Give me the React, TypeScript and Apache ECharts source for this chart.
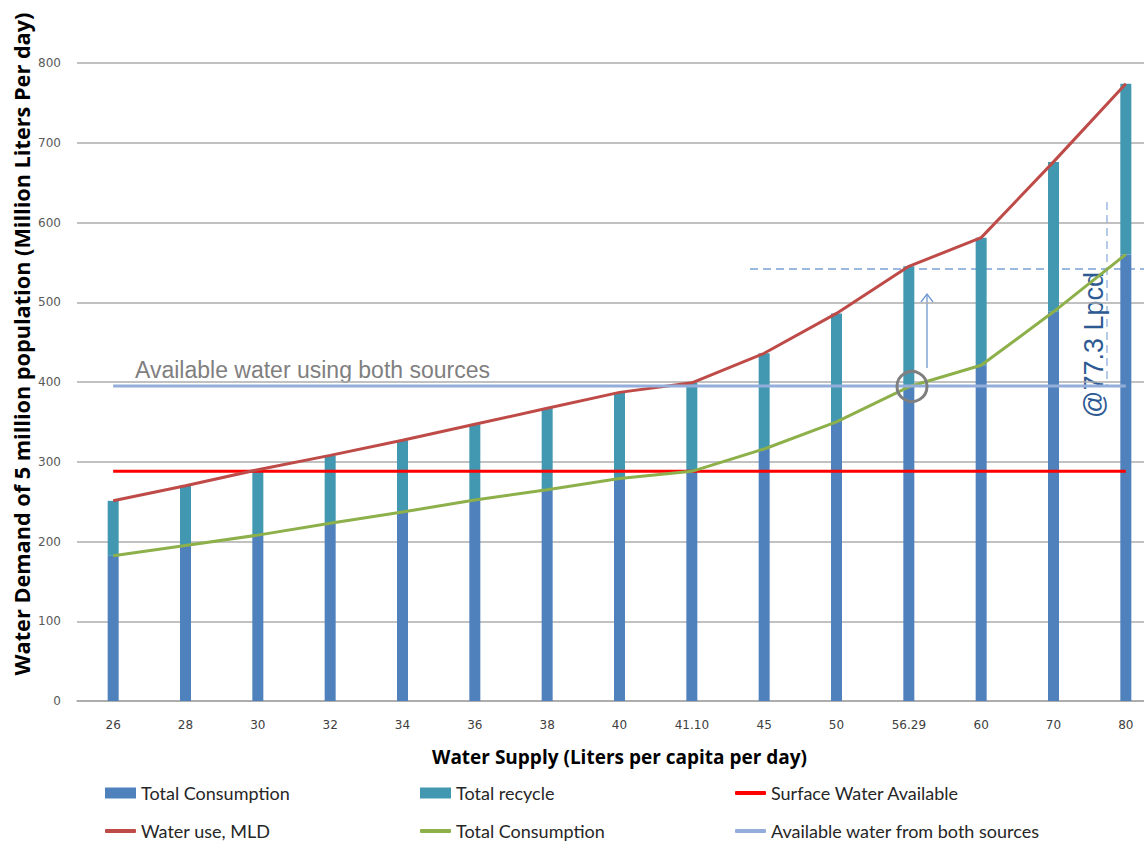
import React, { useEffect, useRef } from "react";
import * as echarts from "echarts";

const categories = ["26", "28", "30", "32", "34", "36", "38", "40", "41.10", "45", "50", "56.29", "60", "70", "80"];
const totalConsumption = [182, 195, 208, 223, 237, 252, 265, 279, 288, 316, 350, 394, 421, 488, 560];
const totalRecycle = [69, 75, 82, 85, 90, 95, 102, 108, 111, 120, 136, 151, 160, 188, 214];
const waterUse = [251, 270, 290, 308, 327, 347, 367, 387, 399, 436, 486, 545, 581, 676, 774];
const surfaceWater = [288, 288, 288, 288, 288, 288, 288, 288, 288, 288, 288, 288, 288, 288, 288];
const bothSources = [395, 395, 395, 395, 395, 395, 395, 395, 395, 395, 395, 395, 395, 395, 395];
const yTicks = { min: 0, max: 800, interval: 100 };

const C_BLUE = "#4F81BD";
const C_TEAL = "#4198B0";
const C_RED = "#FF0000";
const C_WATER = "#BE4B48";
const C_GREEN = "#8DB04A";
const C_LBLUE = "#93AEDA";

export default function App() {
  const ref = useRef<HTMLDivElement>(null);
  useEffect(() => {
    if (!ref.current) return;
    const chart = echarts.init(ref.current, null, { renderer: "svg" });
    const legendFont = { fontFamily: "Lato", fontSize: 18, color: "#262626", lineHeight: 18 };
    const mkLegend = (name: string, left: number, center: number, line: boolean) => ({
      data: [name],
      left,
      top: center - 9,
      padding: 0,
      itemWidth: 31,
      itemHeight: line ? 4 : 11,
      itemGap: 4,
      icon: line ? "roundRect" : "rect",
      textStyle: legendFont,
      selectedMode: false,
    });
    chart.setOption({
      animation: false,
      backgroundColor: "#ffffff",
      grid: { left: 77, right: 0, top: 63, bottom: 141, containLabel: false },
      xAxis: {
        type: "category",
        data: categories,
        boundaryGap: true,
        axisLine: { show: true, lineStyle: { color: "#A6A6A6", width: 1.5 } },
        axisTick: { show: false },
        axisLabel: { margin: 18, fontSize: 12, color: "#404040", fontFamily: "DejaVu Sans" },
        name: "Water Supply (Liters per capita per day)",
        nameLocation: "middle",
        nameGap: 46,
        nameTextStyle: { fontFamily: "Open Sans", fontWeight: "bold", fontSize: 19, color: "#000" },
      },
      yAxis: {
        type: "value",
        min: yTicks.min,
        max: yTicks.max,
        interval: yTicks.interval,
        axisLine: { show: false },
        axisTick: { show: false },
        splitLine: { lineStyle: { color: "#ACACAC", width: 1.5 } },
        axisLabel: { margin: 16, fontSize: 12, color: "#595959", fontFamily: "DejaVu Sans" },
      },
      legend: [
        mkLegend("Total Consumption", 105, 793, false),
        mkLegend("Total recycle", 420, 793, false),
        mkLegend("Surface Water Available", 735, 793, true),
        mkLegend("Water use, MLD", 105, 831, true),
        mkLegend("Total Consumption ", 420, 831, true),
        mkLegend("Available water from both sources", 735, 831, true),
      ],
      series: [
        {
          name: "Total Consumption",
          type: "bar",
          stack: "s",
          data: totalConsumption,
          barWidth: 11,
          itemStyle: { color: C_BLUE },
        },
        {
          name: "Total recycle",
          type: "bar",
          stack: "s",
          data: totalRecycle,
          barWidth: 11,
          itemStyle: { color: C_TEAL },
        },
        {
          name: "Surface Water Available",
          type: "line",
          data: surfaceWater,
          symbol: "none",
          lineStyle: { color: C_RED, width: 3 },
          itemStyle: { color: C_RED },
        },
        {
          name: "Water use, MLD",
          type: "line",
          data: waterUse,
          symbol: "none",
          lineStyle: { color: C_WATER, width: 3 },
          itemStyle: { color: C_WATER },
        },
        {
          name: "Total Consumption ",
          type: "line",
          data: totalConsumption,
          symbol: "none",
          lineStyle: { color: C_GREEN, width: 3 },
          itemStyle: { color: C_GREEN },
        },
        {
          name: "Available water from both sources",
          type: "line",
          data: bothSources,
          symbol: "none",
          lineStyle: { color: C_LBLUE, width: 3 },
          itemStyle: { color: C_LBLUE },
        },
      ],
      graphic: [
        {
          type: "text",
          x: 21,
          y: 344,
          rotation: Math.PI / 2,
          style: {
            text: "Water Demand of 5 million population (Million Liters Per day)",
            fontFamily: "Open Sans",
            fontWeight: "bold",
            fontSize: 21.7,
            fill: "#000",
            align: "center",
            verticalAlign: "middle",
          },
        },
        {
          type: "text",
          x: 135,
          y: 370,
          style: {
            text: "Available water using both sources",
            fontFamily: "Liberation Sans",
            fontSize: 23,
            fill: "#7F7F7F",
            align: "left",
            verticalAlign: "middle",
          },
        },
        {
          type: "line",
          shape: { x1: 750, y1: 269, x2: 1144, y2: 269 },
          style: { stroke: "#7BA3D6", lineWidth: 1.5, lineDash: [8, 5] },
        },
        {
          type: "line",
          shape: { x1: 1107, y1: 202, x2: 1107, y2: 386 },
          style: { stroke: "#8FB0DC", lineWidth: 1.3, lineDash: [8, 5] },
        },
        {
          type: "line",
          shape: { x1: 927, y1: 368, x2: 927, y2: 294 },
          style: { stroke: "#6E98D0", lineWidth: 1.3 },
        },
        {
          type: "polyline",
          shape: { points: [[921, 302], [927, 294], [933, 302]] },
          style: { stroke: "#6E98D0", lineWidth: 1.3, fill: "none" },
        },
        {
          type: "circle",
          shape: { cx: 912, cy: 386.5, r: 15 },
          style: { stroke: "#7F7F7F", lineWidth: 3, fill: "none" },
          z: 100,
        },
        {
          type: "text",
          x: 1094,
          y: 345,
          rotation: Math.PI / 2,
          style: {
            text: "@77.3 Lpcd",
            fontFamily: "Liberation Sans",
            fontSize: 27,
            fill: "#2E5A94",
            align: "center",
            verticalAlign: "middle",
          },
        },
      ],
    });
    return () => chart.dispose();
  }, []);
  return (
    <div
      ref={ref}
      style={{ position: "fixed", left: 0, top: 0, width: 1162, height: 842, background: "#fff" }}
    />
  );
}
